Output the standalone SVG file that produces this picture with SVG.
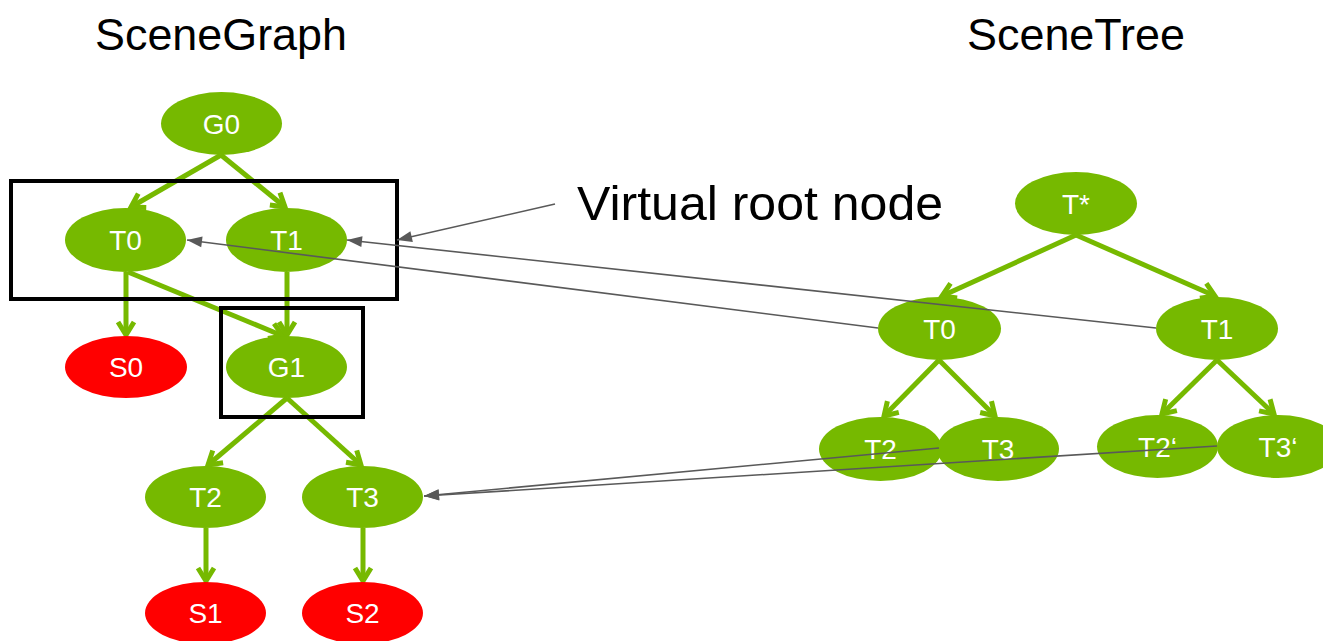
<svg xmlns="http://www.w3.org/2000/svg" width="1323" height="641" viewBox="0 0 1323 641">
<style>
.g{fill:#76b900}
.r{fill:#ff0000}
.lbl{font-family:"Liberation Sans",Arial,sans-serif;font-size:28px;fill:#ffffff;text-anchor:middle}
.title{font-family:"Liberation Sans",Arial,sans-serif;fill:#000000}
.e{stroke:#76b900;stroke-width:5;fill:none;marker-end:url(#ga)}
.p{stroke:#595959;stroke-width:1.6;fill:none;marker-end:url(#pa)}
.box{fill:none;stroke:#000000;stroke-width:4}
</style>
<defs>
<marker id="ga" markerUnits="userSpaceOnUse" viewBox="-20 -12 24 24" refX="0" refY="0" markerWidth="24" markerHeight="24" orient="auto" overflow="visible">
<path d="M-13,-8 L0,0 L-13,8" fill="none" stroke="#76b900" stroke-width="5" stroke-linejoin="miter"/>
</marker>
<marker id="pa" markerUnits="userSpaceOnUse" viewBox="-16 -8 18 16" refX="0" refY="0" markerWidth="18" markerHeight="16" orient="auto" overflow="visible">
<path d="M0,0 L-15,-5.5 L-15,5.5 Z" fill="#595959"/>
</marker>
</defs>
<rect width="1323" height="641" fill="#ffffff"/>
<text class="title" x="95" y="50" font-size="45" textLength="252" lengthAdjust="spacingAndGlyphs">SceneGraph</text>
<text class="title" x="967" y="50" font-size="45" textLength="218" lengthAdjust="spacingAndGlyphs">SceneTree</text>
<text class="title" x="577" y="220" font-size="48" textLength="366" lengthAdjust="spacingAndGlyphs">Virtual root node</text>

<g id="edges">
<line class="e" x1="221" y1="155" x2="131" y2="207"/>
<line class="e" x1="221" y1="155" x2="285" y2="207"/>
<line class="e" x1="126" y1="272" x2="126" y2="335"/>
<line class="e" x1="128" y1="272" x2="283" y2="336"/>
<line class="e" x1="287" y1="272" x2="287" y2="335"/>
<line class="e" x1="287" y1="398" x2="208" y2="465"/>
<line class="e" x1="287" y1="398" x2="361" y2="465"/>
<line class="e" x1="206" y1="528" x2="206" y2="581"/>
<line class="e" x1="363" y1="528" x2="363" y2="581"/>
<line class="e" x1="1076" y1="235" x2="942" y2="296"/>
<line class="e" x1="1076" y1="235" x2="1215" y2="296"/>
<line class="e" x1="939" y1="360" x2="884" y2="416"/>
<line class="e" x1="939" y1="360" x2="995" y2="416"/>
<line class="e" x1="1217" y1="360" x2="1162" y2="414"/>
<line class="e" x1="1217" y1="360" x2="1274" y2="414"/>
</g>

<g id="G0"><ellipse class="g" cx="221.5" cy="123.5" rx="60.5" ry="31.5"/><text class="lbl" x="221.5" y="134">G0</text></g>
<g id="T0"><ellipse class="g" cx="125.5" cy="240" rx="60.5" ry="32"/><text class="lbl" x="125.5" y="250">T0</text></g>
<g id="T1"><ellipse class="g" cx="286.5" cy="240" rx="60.5" ry="32"/><text class="lbl" x="286.5" y="250">T1</text></g>
<g id="S0"><ellipse class="r" cx="126" cy="367" rx="61" ry="31"/><text class="lbl" x="126" y="377">S0</text></g>
<g id="G1"><ellipse class="g" cx="286.5" cy="367" rx="60.5" ry="31"/><text class="lbl" x="286.5" y="377">G1</text></g>
<g id="T2"><ellipse class="g" cx="205.5" cy="497" rx="60.5" ry="31"/><text class="lbl" x="205.5" y="507">T2</text></g>
<g id="T3"><ellipse class="g" cx="362.5" cy="497" rx="60.5" ry="31"/><text class="lbl" x="362.5" y="507">T3</text></g>
<g id="S1"><ellipse class="r" cx="205.5" cy="613" rx="60.5" ry="31"/><text class="lbl" x="205.5" y="623">S1</text></g>
<g id="S2"><ellipse class="r" cx="362.5" cy="613" rx="60.5" ry="31"/><text class="lbl" x="362.5" y="623">S2</text></g>

<g id="Tstar"><ellipse class="g" cx="1076" cy="203.5" rx="61" ry="31.5"/><text class="lbl" x="1076" y="214">T*</text></g>
<g id="RT0"><ellipse class="g" cx="939.5" cy="328.5" rx="61.5" ry="31.5"/><text class="lbl" x="939.5" y="339">T0</text></g>
<g id="RT1"><ellipse class="g" cx="1217" cy="328.5" rx="61" ry="31.5"/><text class="lbl" x="1217" y="339">T1</text></g>
<g id="RT2"><ellipse class="g" cx="880.5" cy="449" rx="61.5" ry="32"/><text class="lbl" x="880.5" y="459">T2</text></g>
<g id="RT3"><ellipse class="g" cx="998" cy="449" rx="61" ry="32"/><text class="lbl" x="998" y="459">T3</text></g>
<g id="RT2p"><ellipse class="g" cx="1157.5" cy="446.5" rx="60.5" ry="31.5"/><text class="lbl" x="1157.5" y="457">T2‘</text></g>
<g id="RT3p"><ellipse class="g" cx="1278" cy="446.5" rx="61" ry="31.5"/><text class="lbl" x="1278" y="457">T3‘</text></g>

<g id="boxes">
<rect class="box" x="11" y="181" width="386" height="118"/>
<rect class="box" x="221" y="308" width="142" height="109"/>
</g>

<g id="pointers">
<line class="p" x1="555" y1="204" x2="397" y2="240"/>
<line class="p" x1="878" y1="328" x2="187" y2="240"/>
<line class="p" x1="1156" y1="328" x2="347" y2="240"/>
<line class="p" x1="939" y1="448" x2="424" y2="496"/>
<line class="p" x1="1217" y1="446" x2="424" y2="496"/>
</g>
</svg>
